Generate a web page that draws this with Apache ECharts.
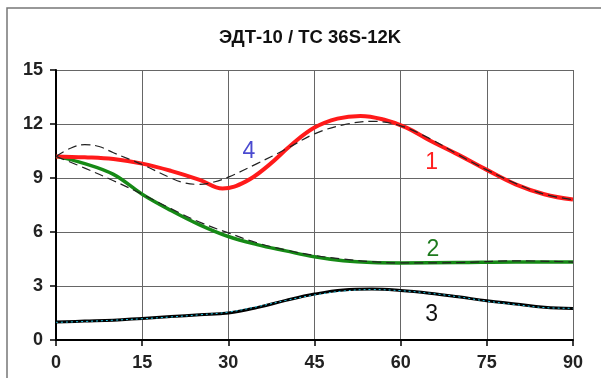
<!DOCTYPE html>
<html><head><meta charset="utf-8">
<script src="https://cdn.jsdelivr.net/npm/echarts@6/dist/echarts.min.js"></script>
<style>html,body{margin:0;padding:0;background:#fff}#c{width:601px;height:378px}</style>
</head><body><div id="c"></div>
<script>
var titleText = 'ЭДТ-10 / TC 36S-12K';
var xTicks = [0, 15, 30, 45, 60, 75, 90];
var yTicks = [0, 3, 6, 9, 12, 15];

var curve1X = [0, 5, 10, 15, 20, 25, 29, 33, 37, 41, 45, 49, 53, 57, 61, 65, 70, 75, 80, 85, 90];
var curve1Y = [10.2, 10.15, 10.05, 9.8, 9.4, 8.9, 8.42, 8.8, 9.7, 10.85, 11.8, 12.3, 12.45, 12.25, 11.8, 11.1, 10.3, 9.45, 8.65, 8.1, 7.8];

var fit1X = [0, 2.5, 5, 7.5, 10, 15, 20, 22.5, 25, 27.5, 30, 35, 40, 45, 50, 55, 60, 65, 70, 75, 80, 85, 90];
var fit1Y = [10.2, 10.65, 10.85, 10.75, 10.4, 9.75, 9.0, 8.72, 8.65, 8.78, 9.05, 9.8, 10.6, 11.45, 11.95, 12.15, 11.9, 11.2, 10.3, 9.45, 8.7, 8.1, 7.8];

var curve2X = [0, 5, 10, 15, 20, 25, 30, 35, 40, 45, 50, 55, 60, 70, 80, 90];
var curve2Y = [10.2, 9.8, 9.2, 8.1, 7.2, 6.4, 5.75, 5.3, 4.95, 4.62, 4.4, 4.3, 4.28, 4.3, 4.33, 4.33];

var fit2X = [0, 5, 10, 15, 20, 25, 30, 35, 40, 45, 50, 55, 60, 70, 80, 90];
var fit2Y = [10.2, 9.55, 8.85, 8.1, 7.3, 6.55, 5.95, 5.4, 5.0, 4.7, 4.5, 4.35, 4.28, 4.3, 4.4, 4.33];

var curve3X = [0, 5, 10, 15, 20, 25, 30, 35, 40, 45, 50, 55, 60, 65, 70, 75, 80, 85, 90];
var curve3Y = [1.0, 1.05, 1.1, 1.2, 1.3, 1.4, 1.5, 1.8, 2.2, 2.55, 2.78, 2.83, 2.75, 2.6, 2.4, 2.18, 2.0, 1.82, 1.75];
var fit3Y = [0.98, 1.03, 1.1, 1.18, 1.28, 1.4, 1.55, 1.85, 2.2, 2.5, 2.72, 2.8, 2.74, 2.6, 2.4, 2.16, 1.97, 1.8, 1.76];

var labelNames = ['1', '2', '3', '4'];
var labelX = [65.4, 65.6, 65.4, 33.6];
var labelY = [9.83, 5.0, 1.39, 10.44];
var labelColors = ['#ff2020', '#1e7a1e', '#111111', '#4a4ad0'];

function pairs(xs, ys){ return xs.map(function(x,i){ return [x, ys[i]]; }); }

var chart = echarts.init(document.getElementById('c'));
var lbl = labelNames.map(function(n,i){
  return {coord:[labelX[i], labelY[i]], symbolSize:0, symbol:'circle',
    label:{show:true, position:'inside', formatter:n, color:labelColors[i], fontSize:23, fontFamily:'Liberation Sans, Arial, sans-serif'}};
});
chart.setOption({
  animation:false,
  title:{text:titleText, left:305, top:23, textAlign:'center',
    textStyle:{fontSize:18.5, fontWeight:'bold', color:'#111', fontFamily:'Liberation Sans, Arial, sans-serif'}},
  graphic:[{type:'rect', shape:{x:7, y:8, width:610, height:390}, style:{fill:'none', stroke:'#777', lineWidth:1.5}, z:-1}],
  grid:{left:56, right:28, top:70, bottom:38},
  xAxis:{type:'value', min:0, max:90, interval:15,
    axisLine:{show:true, onZero:false, lineStyle:{color:'#000', width:2}},
    axisTick:{show:true, length:6, lineStyle:{color:'#000', width:1.5}},
    axisLabel:{margin:14, fontSize:18, fontWeight:'bold', color:'#222', fontFamily:'Liberation Sans, Arial, sans-serif',
      formatter:function(v){ return xTicks.indexOf(v)>=0 ? String(v) : ''; }},
    splitLine:{show:true, lineStyle:{color:'#666', width:1}}},
  yAxis:{type:'value', min:0, max:15, interval:3,
    axisLine:{show:true, onZero:false, lineStyle:{color:'#000', width:2}},
    axisTick:{show:true, length:6, lineStyle:{color:'#000', width:1.5}},
    axisLabel:{margin:13, fontSize:18, fontWeight:'bold', color:'#222', fontFamily:'Liberation Sans, Arial, sans-serif',
      formatter:function(v){ return yTicks.indexOf(v)>=0 ? String(v) : ''; }},
    splitLine:{show:true, lineStyle:{color:'#666', width:1}}},
  series:[
    {type:'line', data:pairs(curve2X, curve2Y), smooth:0.4, symbol:'none', lineStyle:{color:'#168a16', width:3.5}, z:2},
    {type:'line', data:pairs(curve1X, curve1Y), smooth:0.4, symbol:'none', lineStyle:{color:'#ff1a1a', width:4}, z:2},
    {type:'line', data:pairs(curve3X, curve3Y), smooth:0.4, symbol:'none', lineStyle:{color:'#000', width:3}, z:2},
    {type:'line', data:pairs(fit1X, fit1Y), smooth:0.4, symbol:'none', lineStyle:{color:'#222', width:1.2, type:[9,5]}, z:3},
    {type:'line', data:pairs(fit2X, fit2Y), smooth:0.4, symbol:'none', lineStyle:{color:'#222', width:1.2, type:[9,5]}, z:3},
    {type:'line', data:pairs(curve3X, fit3Y), smooth:0.4, symbol:'none', lineStyle:{color:'#22c8e8', width:1, type:[2,3]}, z:4,
      markPoint:{data:lbl, silent:true}}
  ]
});
</script></body></html>
